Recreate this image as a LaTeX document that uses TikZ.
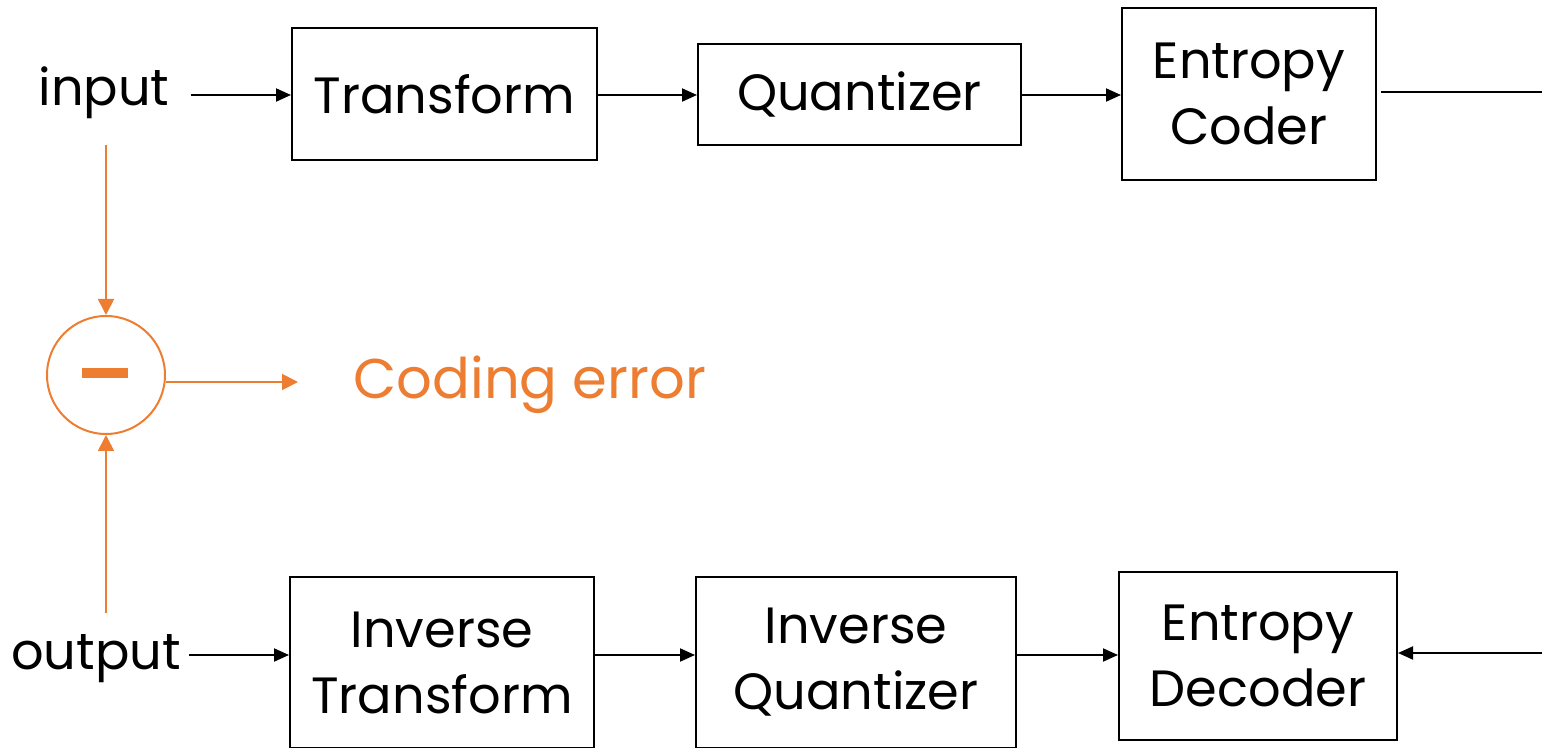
\documentclass[tikz,border=0pt]{standalone}
\usepackage{fontspec}
\setmainfont{Poppins}
\usetikzlibrary{arrows.meta,positioning}
\definecolor{errorange}{HTML}{ED7D31}

\begin{document}
\begin{tikzpicture}[x=0.5pt,y=-0.5pt,>={Triangle[length=7.5pt,width=6.5pt]},
  block/.style={shape=rectangle,draw,line width=1pt,align=center,font=\fontsize{25.5}{33}\selectfont,inner sep=0pt},
  label/.style={font=\fontsize{25.5}{33}\selectfont,inner sep=0pt},
  errline/.style={draw=errorange,line width=0.9pt}]
  \useasboundingbox (0,0) rectangle (1542,748);
	% encoder row
    \node (input) [label] at (104,93) {input};
    \node (trans) [block, minimum width=152.5pt, minimum height=66pt] at (444.5,94) {Transform};
    \node (quant) [block, minimum width=161.5pt, minimum height=50.5pt] at (859.5,94.5) {Quantizer};
    \node (ecoder) [block, minimum width=127pt, minimum height=86pt] at (1249,94) {Entropy\\Coder};
    \coordinate (chanout) at (1542,92);
	% decoder row
    \node (output) [label] at (96,659) {output};
    \node (itrans) [block, minimum width=152pt, minimum height=85.5pt] at (442,662.5) {Inverse\\Transform};
    \node (iquant) [block, minimum width=160pt, minimum height=85.5pt] at (856,662.5) {Inverse\\Quantizer};
    \node (edecoder) [block, minimum width=139pt, minimum height=84pt] at (1258,656) {Entropy\\Decoder};
    \coordinate (chanin) at (1542,653);
	% error
    \node (diff) [shape=circle, draw=errorange, line width=1pt, minimum size=59pt, inner sep=0pt] at (106,375) {};
    \fill[errorange] (82,368) rectangle (128,378);
    \node (err) [label, text=errorange, anchor=west, font=\fontsize{28}{33}\selectfont] at (353,385) {Coding error};
    \coordinate (errend) at (298,382);

	% connect the nodes
    \draw[->, line width=1pt] (191,95) -- (trans.west |- 0,95);
    \draw[->, line width=1pt] (trans.east |- 0,95) -- (quant.west |- 0,95);
    \draw[->, line width=1pt] (quant.east |- 0,95) -- (ecoder.west |- 0,95);
    \draw[line width=1pt] (1381,92) -- (chanout);
    \draw[->, line width=1pt] (189,655) -- (itrans.west |- 0,655);
    \draw[->, line width=1pt] (itrans.east |- 0,655) -- (iquant.west |- 0,655);
    \draw[->, line width=1pt] (iquant.east |- 0,655) -- (edecoder.west |- 0,655);
    \draw[->, line width=1pt] (chanin) -- (edecoder.east |- 0,653);
    \draw[-{Triangle[length=8pt,width=8pt]}, errline] (106,145) -- (diff.north);
    \draw[-{Triangle[length=8pt,width=8pt]}, errline] (106,613) -- (diff.south);
    \draw[-{Triangle[length=8pt,width=8pt]}, errline] (diff.east |- 0,382) -- (errend);
\end{tikzpicture}
\end{document}
